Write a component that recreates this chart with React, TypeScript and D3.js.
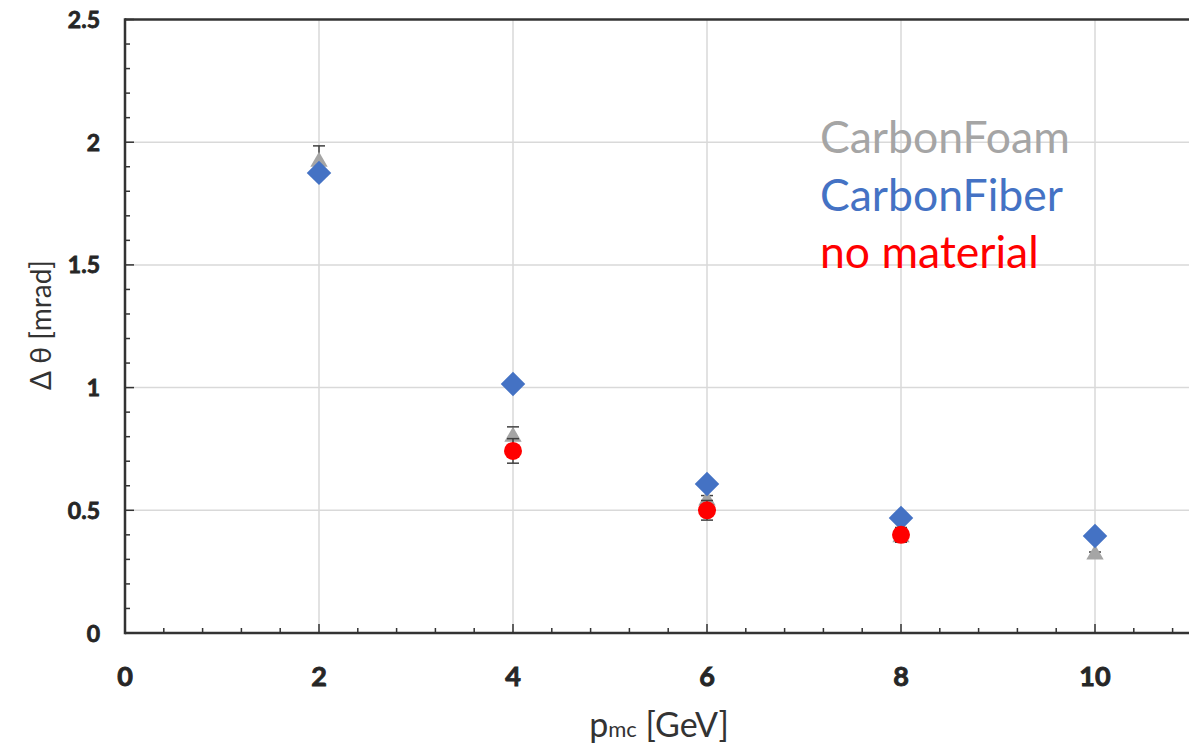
import React from "react";
import * as d3 from "d3";

const momenta = [2, 4, 6, 8, 10];
const carbonFoam = [1.92, 0.8, 0.54, 0.39, 0.32];
const carbonFoamErr = [0.065, 0.04, 0.02, 0.02, 0.01];
const carbonFiber = [1.875, 1.015, 0.607, 0.469, 0.395];
const noMatMomenta = [4, 6, 8];
const noMaterial = [0.742, 0.5, 0.4];
const noMaterialErr = [0.05, 0.04, 0.03];
const xTicks = [0, 2, 4, 6, 8, 10];
const yTicks = [0, 0.5, 1, 1.5, 2, 2.5];
const legendItems = [
  { label: "CarbonFoam", color: "#A5A5A5" },
  { label: "CarbonFiber", color: "#4472C4" },
  { label: "no material", color: "#FF0000" },
];

const W = 1189;
const H = 749;
const FONT = "Lato, 'Open Sans', sans-serif";

export default function App() {
  const x = d3.scaleLinear().domain([0, 11]).range([125, 1192]);
  const y = d3.scaleLinear().domain([0, 2.5]).range([633, 19.5]);
  const xMinor = d3.range(0, 11.01, 0.4).filter((v) => Math.abs(v / 2 - Math.round(v / 2)) > 0.01);
  const yMinor = d3.range(0, 2.501, 0.1).filter((v) => Math.abs(v / 0.5 - Math.round(v / 0.5)) > 0.01);
  const tri = d3.symbol().type(d3.symbolTriangle).size(130)() as string;
  const dia = d3.symbol().type(d3.symbolSquare).size(300)() as string;
  const axisColor = "#333333";
  const errColor = "#404040";
  const cap = 6;

  return (
    <svg width={W} height={H} style={{ position: "absolute", left: 0, top: 0, background: "#fff" }}>
      <rect x={0} y={0} width={W} height={H} fill="#fff" />
      {/* grid */}
      {xTicks.filter((t) => t > 0).map((t) => (
        <line key={"gx" + t} x1={x(t)} x2={x(t)} y1={y(0)} y2={y(2.5)} stroke="#D9D9D9" strokeWidth={1.5} />
      ))}
      {yTicks.filter((t) => t > 0 && t < 2.5).map((t) => (
        <line key={"gy" + t} x1={x(0)} x2={W} y1={y(t)} y2={y(t)} stroke="#D9D9D9" strokeWidth={1.5} />
      ))}
      {/* axes */}
      <line x1={x(0)} x2={W} y1={y(2.5)} y2={y(2.5)} stroke={axisColor} strokeWidth={2.5} />
      <line x1={x(0)} x2={W} y1={y(0)} y2={y(0)} stroke={axisColor} strokeWidth={2.5} />
      <line x1={x(0)} x2={x(0)} y1={y(0) + 1.25} y2={y(2.5) - 1.25} stroke={axisColor} strokeWidth={2.5} />
      {xMinor.map((t) => (
        <line key={"xm" + t} x1={x(t)} x2={x(t)} y1={y(0)} y2={y(0) - 5} stroke={axisColor} strokeWidth={1.5} />
      ))}
      {xTicks.map((t) => (
        <line key={"xM" + t} x1={x(t)} x2={x(t)} y1={y(0)} y2={y(0) - 9} stroke={axisColor} strokeWidth={1.5} />
      ))}
      {yMinor.map((t) => (
        <line key={"ym" + t} x1={x(0)} x2={x(0) + 5} y1={y(t)} y2={y(t)} stroke={axisColor} strokeWidth={1.5} />
      ))}
      {yTicks.map((t) => (
        <line key={"yM" + t} x1={x(0)} x2={x(0) + 9} y1={y(t)} y2={y(t)} stroke={axisColor} strokeWidth={1.5} />
      ))}
      {/* tick labels */}
      {xTicks.map((t) => (
        <text key={"xl" + t} x={x(t)} y={686} textAnchor="middle" fontFamily={FONT} fontWeight="bold" fontSize={27} fill="#262626" stroke="#262626" strokeWidth={0.9}>
          {t}
        </text>
      ))}
      {yTicks.map((t) => (
        <text key={"yl" + t} x={100} y={y(t) + 8.5} textAnchor="end" fontFamily={FONT} fontWeight="bold" fontSize={23} fill="#262626" stroke="#262626" strokeWidth={0.8}>
          {t}
        </text>
      ))}
      {/* axis titles */}
      <text x={0} y={0} transform={`translate(51,${325}) rotate(-90)`} textAnchor="middle" fontFamily={FONT} fontSize={28} fill="#333">
        Δ θ [mrad]
      </text>
      <text x={659} y={737} textAnchor="middle" fontFamily={FONT} fontSize={34} fill="#333">
        p<tspan fontSize={22}>mc</tspan> [GeV]
      </text>
      {/* CarbonFoam */}
      {momenta.map((m, i) => (
        <g key={"fe" + m} stroke={errColor} strokeWidth={1.5}>
          <line x1={x(m)} x2={x(m)} y1={y(carbonFoam[i] - carbonFoamErr[i])} y2={y(carbonFoam[i] + carbonFoamErr[i])} />
          <line x1={x(m) - cap} x2={x(m) + cap} y1={y(carbonFoam[i] + carbonFoamErr[i])} y2={y(carbonFoam[i] + carbonFoamErr[i])} />
          <line x1={x(m) - cap} x2={x(m) + cap} y1={y(carbonFoam[i] - carbonFoamErr[i])} y2={y(carbonFoam[i] - carbonFoamErr[i])} />
        </g>
      ))}
      {momenta.map((m, i) => (
        <path key={"f" + m} d={tri} transform={`translate(${x(m)},${y(carbonFoam[i])})`} fill="#A5A5A5" />
      ))}
      {/* CarbonFiber */}
      {momenta.map((m, i) => (
        <path key={"c" + m} d={dia} transform={`translate(${x(m)},${y(carbonFiber[i])}) rotate(45)`} fill="#4472C4" />
      ))}
      {/* no material */}
      {noMatMomenta.map((m, i) => (
        <g key={"ne" + m} stroke={errColor} strokeWidth={1.5}>
          <line x1={x(m)} x2={x(m)} y1={y(noMaterial[i] - noMaterialErr[i])} y2={y(noMaterial[i] + noMaterialErr[i])} />
          <line x1={x(m) - cap} x2={x(m) + cap} y1={y(noMaterial[i] + noMaterialErr[i])} y2={y(noMaterial[i] + noMaterialErr[i])} />
          <line x1={x(m) - cap} x2={x(m) + cap} y1={y(noMaterial[i] - noMaterialErr[i])} y2={y(noMaterial[i] - noMaterialErr[i])} />
        </g>
      ))}
      {noMatMomenta.map((m, i) => (
        <circle key={"n" + m} cx={x(m)} cy={y(noMaterial[i])} r={9} fill="#FF0000" />
      ))}
      {/* legend */}
      {legendItems.map((it, i) => (
        <text key={it.label} x={820} y={153 + i * 57.5} fontFamily={FONT} fontSize={44.5} fill={it.color}>
          {it.label}
        </text>
      ))}
    </svg>
  );
}
